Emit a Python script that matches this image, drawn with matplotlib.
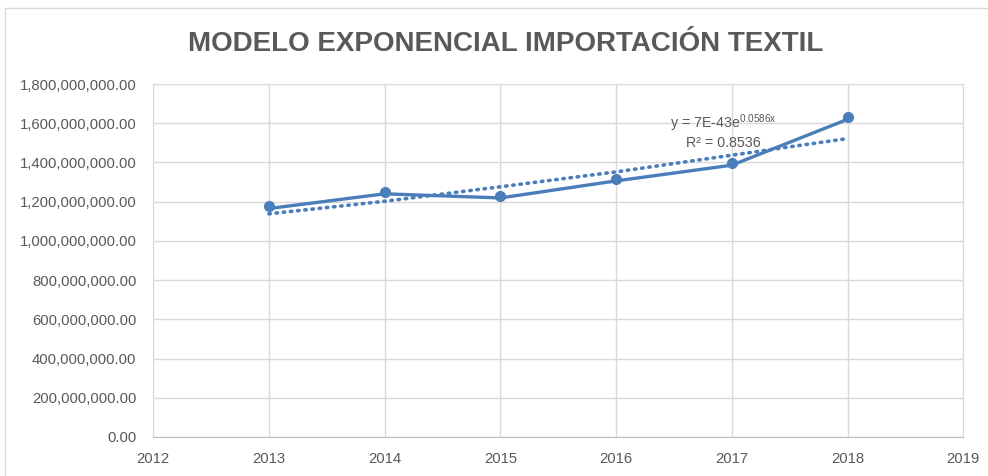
"""
Modelo exponencial de importación textil (recreación del gráfico de Excel)
"""

import matplotlib
matplotlib.use('Agg')
import matplotlib.pyplot as plt
from matplotlib.ticker import FuncFormatter, MultipleLocator
from matplotlib.patches import Rectangle

# datos
anios = [2013, 2014, 2015, 2016, 2017, 2018]
importacion_puntos = [1178e6, 1250e6, 1230e6, 1316e6, 1398e6, 1633e6]
importacion_linea = [1165e6, 1240e6, 1219e6, 1306e6, 1386e6, 1620e6]
tendencia_exp = [1138e6, 1202e6, 1276e6, 1352e6, 1437e6, 1522e6]

titulo = 'MODELO EXPONENCIAL IMPORTACIÓN TEXTIL'
ecuacion = r'y = 7E-43e$^{0.0586x}$'
r2 = 'R² = 0.8536'

azul = '#4a7ebb'
gris_texto = '#595959'
gris_rejilla = '#d9d9d9'

plt.rcParams['font.family'] = ['Liberation Sans', 'DejaVu Sans']
plt.rcParams['mathtext.default'] = 'regular'

fig = plt.figure(figsize=(9.88, 4.76), dpi=100)
ax = fig.add_axes([0.155, 0.082, 0.82, 0.7415])

# borde del área del gráfico
fig.patches.append(Rectangle((5 / 988, -0.1), 1.1, 1 - 8 / 476 + 0.1,
                             transform=fig.transFigure, fill=False,
                             edgecolor=gris_rejilla, linewidth=1))

ax.plot(anios, tendencia_exp, color=azul, linewidth=2.6,
        linestyle=(0, (0.4, 1.6)), dash_capstyle='round', zorder=3)
ax.plot(anios, importacion_linea, color=azul, linewidth=2.4, zorder=4,
        solid_joinstyle='miter')
ax.plot(anios, importacion_puntos, color=azul, linestyle='none',
        marker='o', markersize=7, zorder=5)

ax.set_xlim(2012, 2019)
ax.set_ylim(0, 1.8e9)
ax.xaxis.set_major_locator(MultipleLocator(1))
ax.yaxis.set_major_locator(MultipleLocator(2e8))
ax.yaxis.set_major_formatter(FuncFormatter(lambda v, p: f'{v:,.2f}'))

ax.grid(True, color=gris_rejilla, linewidth=1)
ax.set_axisbelow(True)
for s in ax.spines.values():
    s.set_color(gris_rejilla)
ax.spines['bottom'].set_color('#bfbfbf')
ax.tick_params(length=0, colors=gris_texto, labelsize=10.7)
ax.tick_params(axis='y', pad=12)
ax.tick_params(axis='x', pad=11)

ax.text(2016.93, 1.602e9, ecuacion, ha='center', va='center',
        fontsize=10.3, color=gris_texto)
ax.text(2016.93, 1.50e9, r2, ha='center', va='center',
        fontsize=10.3, color=gris_texto)

fig.text(0.512, 0.908, titulo, ha='center', va='center', fontsize=20,
         fontweight='bold', color=gris_texto)

plt.savefig('out.png', dpi=100)
